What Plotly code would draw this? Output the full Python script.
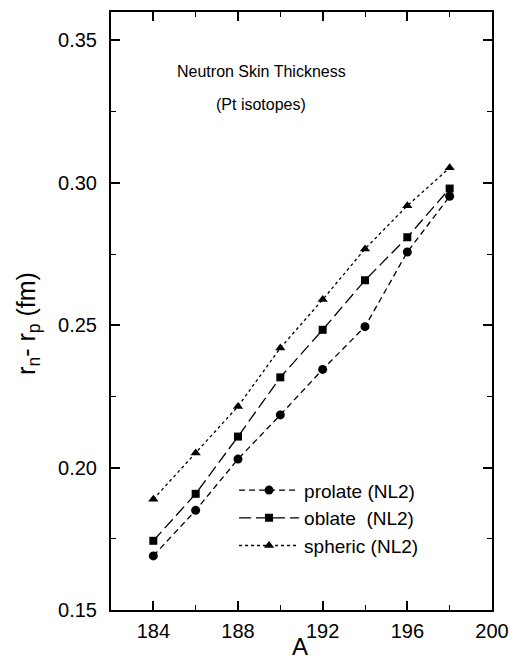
import plotly.graph_objects as go

A = [184, 186, 188, 190, 192, 194, 196, 198]
prolate = [0.169, 0.185, 0.203, 0.2185, 0.2345, 0.2495, 0.2757, 0.2953]
oblate = [0.1743, 0.1908, 0.2109, 0.2317, 0.2484, 0.2658, 0.2809, 0.298]
spheric = [0.1889, 0.2051, 0.2215, 0.242, 0.259, 0.2768, 0.292, 0.3053]

names = ["prolate (NL2)", "oblate\u00a0\u00a0(NL2)", "spheric (NL2)"]
x_ticks = [184, 188, 192, 196, 200]
y_ticks = [0.15, 0.20, 0.25, 0.30, 0.35]

FONT = "Liberation Sans, Arial, sans-serif"

fig = go.Figure()
styles = [
    (prolate, "circle", "6px,4px", 9),
    (oblate, "square", "12px,5px", 8),
    (spheric, "triangle-up", "3px,3px", 9),
]
for (vals, sym, dash, ms), nm in zip(styles, names):
    fig.add_trace(go.Scatter(
        x=A, y=vals, name=nm, mode="lines+markers",
        line=dict(color="black", width=1.3, dash=dash),
        marker=dict(symbol=sym, size=ms, color="black"),
    ))

axis_common = dict(
    showline=True, linecolor="black", linewidth=2, mirror="allticks",
    ticks="inside", ticklen=9, tickwidth=1.5, tickcolor="black",
    showgrid=False, zeroline=False, automargin=False,
    tickfont=dict(family=FONT, size=20, color="black"),
)
fig.update_xaxes(
    range=[182, 200], tickvals=x_ticks, ticktext=[str(v) for v in x_ticks],
    minor=dict(dtick=2, tick0=182, ticks="inside", ticklen=5, tickwidth=1.2, tickcolor="black"),
    ticklabelstandoff=2,
    **axis_common,
)
fig.update_yaxes(
    range=[0.15, 0.36], tickvals=y_ticks, ticktext=[f"{v:.2f}" for v in y_ticks],
    minor=dict(dtick=0.025, tick0=0.15, ticks="inside", ticklen=5, tickwidth=1.2, tickcolor="black"),
    ticklabelstandoff=8,
    **axis_common,
)

fig.add_annotation(text="Neutron Skin Thickness", x=0.394, y=0.900, xref="paper", yref="paper",
                   showarrow=False, font=dict(family=FONT, size=16, color="black"), xanchor="center", yanchor="middle")
fig.add_annotation(text="(Pt isotopes)", x=0.394, y=0.845, xref="paper", yref="paper",
                   showarrow=False, font=dict(family=FONT, size=16, color="black"), xanchor="center", yanchor="middle")
fig.add_annotation(text="r<sub>n</sub>- r<sub>p</sub> (fm)", x=-0.218, y=0.48, xref="paper", yref="paper",
                   textangle=-90, showarrow=False, font=dict(family=FONT, size=25, color="black"),
                   xanchor="center", yanchor="middle")
fig.add_annotation(text="A", x=0.496, y=-0.087, xref="paper", yref="paper",
                   showarrow=False, font=dict(family=FONT, size=24, color="black"),
                   xanchor="center", yanchor="bottom")

fig.update_layout(
    width=510, height=663,
    margin=dict(l=111, r=18, t=12, b=53),
    paper_bgcolor="white", plot_bgcolor="white",
    showlegend=True,
    legend=dict(x=0.323, y=0.232, xanchor="left", yanchor="top",
                bgcolor="rgba(0,0,0,0)", font=dict(family=FONT, size=19, color="black"),
                itemwidth=60, tracegroupgap=0),
)

fig.write_html("out.html", config={"displayModeBar": False},
               post_script="document.body.style.margin='0';document.body.style.overflow='hidden';")
